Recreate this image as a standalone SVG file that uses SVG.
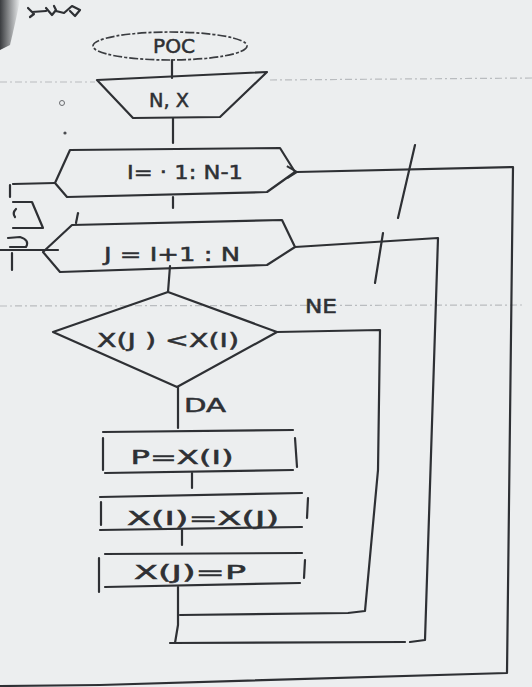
<svg xmlns="http://www.w3.org/2000/svg" width="532" height="687" viewBox="0 0 532 687">
<defs>
<style>
.s{fill:none;stroke:#2e3034;stroke-width:2.2;stroke-linejoin:round;stroke-linecap:round}
.t{font-family:"DejaVu Sans","Liberation Sans",sans-serif;fill:#2e3034;stroke:#2e3034;stroke-width:0.5;font-size:19px;text-anchor:middle}
.faint{fill:none;stroke:#b9bcbf;stroke-width:1.2;stroke-dasharray:7 3 2 3}
</style>
<linearGradient id="shade" x1="0" y1="0" x2="1" y2="0">
<stop offset="0" stop-color="#3a3c3f"/>
<stop offset="1" stop-color="#3a3c3f" stop-opacity="0"/>
</linearGradient>
<marker id="arr" viewBox="0 0 12 14" refX="1" refY="7" markerWidth="12" markerHeight="14" markerUnits="userSpaceOnUse" orient="auto-start-reverse">
<path d="M11,1 L1,7 L11,13" fill="none" stroke="#2e3034" stroke-width="2"/>
</marker>
</defs>
<rect width="532" height="687" fill="#eceeef"/>
<path d="M0,0 L20,0 Q16,20 10,45 L0,50 Z" fill="url(#shade)"/>
<g id="artifacts">
<line class="faint" x1="0" y1="82" x2="95" y2="82"/>
<line class="faint" x1="270" y1="80" x2="532" y2="78"/>
<line class="faint" x1="0" y1="306" x2="525" y2="305"/>
<circle cx="62" cy="103" r="2.5" fill="none" stroke="#6a6c70" stroke-width="1"/>
<circle cx="65" cy="133" r="1.6" fill="#4a4c50"/>
<path class="s" stroke-width="1.8" d="M28,8 L34,14 L30,17 M32,12 L46,11 M46,8 L52,15 L56,10 L54,6 M56,11 L64,13 L72,6 L80,10 L75,16 L70,11"/>
</g>
<g id="edge-fragments">
<path class="s" d="M13,184 L55,183 M10,185 L10,197"/>
<path class="s" d="M13,202 L32,202 L43,228 L13,228"/>
<path class="s" stroke-width="1.6" d="M16,209 Q12,213 15,217"/>
<path class="s" stroke-width="1.8" d="M8,238 L20,237 Q30,240 26,247 L10,247"/>
<path class="s" d="M0,250 L58,250 M12,253 L12,270"/>
<path class="s" stroke-width="1.4" d="M78,213 L76,223"/>
</g>
<g id="ticks">
<path class="s" stroke-width="1.6" d="M415,145 L398,218 M383,233 L375,283"/>
</g>
<g id="start">
<ellipse cx="170" cy="46" rx="77" ry="14" fill="none" stroke="#3a3c40" stroke-width="1.7" stroke-dasharray="9 2 3 2"/>
<text class="t" x="174" y="53" font-size="17" textLength="42" lengthAdjust="spacingAndGlyphs">POC</text>
</g>
<g id="input">
<polygon class="s" points="97,80 267,72 220,117 133,118"/>
<text class="t" x="169" y="107" font-size="20" textLength="40" lengthAdjust="spacingAndGlyphs">N, X</text>
</g>
<g id="loopI">
<polygon class="s" points="70,150 280,148 295,172 267,192 67,197 55,183"/>
<text class="t" x="185" y="179" font-size="20" textLength="116" lengthAdjust="spacingAndGlyphs">I= · 1: N-1</text>
</g>
<g id="loopJ">
<polygon class="s" points="72,225 282,220 295,247 267,265 60,272 43,252"/>
<text class="t" x="172" y="261" font-size="21" textLength="136" lengthAdjust="spacingAndGlyphs">J = I+1 : N</text>
</g>
<g id="decision">
<polygon class="s" points="168,292 277,332 177,387 53,332"/>
<text class="t" x="168" y="347" font-size="20" textLength="142" lengthAdjust="spacingAndGlyphs">X(J ) &lt;X(I)</text>
</g>
<g id="box1">
<path class="s" d="M103,432 L293,430 M105,473 L293,470 M103,438 L103,470 M295,438 L297,467"/>
<text class="t" x="182" y="464" font-size="25" textLength="103" lengthAdjust="spacingAndGlyphs">P=X(I)</text>
</g>
<g id="box2">
<path class="s" d="M100,497 L302,493 M100,530 L302,527 M101,502 L101,525 M308,498 L307,518"/>
<text class="t" x="203" y="525" font-size="25" textLength="152" lengthAdjust="spacingAndGlyphs">X(I)=X(J)</text>
</g>
<g id="box3">
<path class="s" d="M105,554 L302,553 M105,587 L300,583 M99,558 L99,592 M305,560 L304,578"/>
<text class="t" x="190" y="579" font-size="24" textLength="112" lengthAdjust="spacingAndGlyphs">X(J)=P</text>
</g>
<g id="connectors">
<path class="s" d="M172,60 L172,78"/>
<path class="s" d="M173,118 L173,143"/>
<path class="s" d="M173,197 L173,208"/>
<path class="s" d="M170,266 L168,292"/>
<path class="s" d="M178,387 L178,428"/>
<path class="s" d="M192,473 L192,488"/>
<path class="s" d="M182,530 L182,545"/>
<path class="s" d="M178,587 L178,625 L175,643"/>
<path class="s" d="M277,332 L380,330 L378,470 L365,611 L348,613 L180,615"/>
<path class="s" d="M170,643 L405,642 M410,642 L425,640 L438,238 L295,247"/>
<path class="s" d="M0,686 L100,685 L507,673 L513,167 L297,172" marker-end="url(#arr)"/>
<text class="t" x="321" y="313" font-size="17" textLength="32" lengthAdjust="spacingAndGlyphs">NE</text>
<text class="t" x="205" y="412" font-size="17" textLength="42" lengthAdjust="spacingAndGlyphs">DA</text>
</g>
</svg>
